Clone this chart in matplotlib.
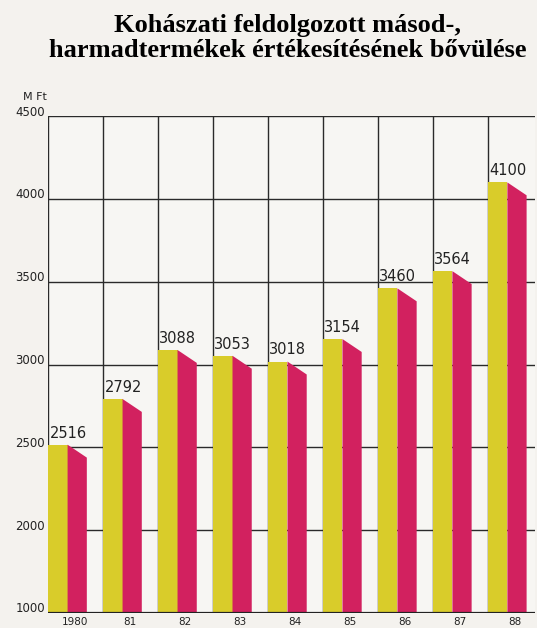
import numpy as np
import matplotlib.pyplot as plt
from matplotlib.transforms import ScaledTranslation

# adatok
years = ['1980', '81', '82', '83', '84', '85', '86', '87', '88']
values = [2516, 2792, 3088, 3053, 3018, 3154, 3460, 3564, 4100]
yticks = [1000, 2000, 2500, 3000, 3500, 4000, 4500]

yellow = '#d9cc2a'
magenta = '#d2215f'
paper = '#f4f2ee'


# 1000-2000 kozott osszenyomott tengely
def fwd(v):
    v = np.asarray(v, dtype=float)
    return np.where(v >= 2000, v - 1500, (v - 1000) / 2)


def inv(u):
    u = np.asarray(u, dtype=float)
    return np.where(u >= 500, u + 1500, 1000 + 2 * u)


fig = plt.figure(figsize=(5.37, 6.28), dpi=100, facecolor=paper)
ax = fig.add_axes([0.089, 0.024, 0.907, 0.791])
ax.set_facecolor('#f7f6f3')
ax.set_yscale('function', functions=(fwd, inv))

x = np.arange(len(years))
front_w = 0.36
side_w = 0.35
drop = 78  # ferde teto esese

# elolap
ax.bar(x, np.array(values) - 1000, bottom=1000, width=front_w, align='edge',
       color=yellow, zorder=3)

# oldallap + ertekek
for i, v in enumerate(values):
    xs = [x[i] + front_w, x[i] + front_w + side_w, x[i] + front_w + side_w, x[i] + front_w]
    ys = [v, v - drop, 1000, 1000]
    ax.fill(xs, ys, color=magenta, zorder=3, lw=0)
    ax.text(x[i] + 0.03, v + 25, str(v), fontsize=10.5, color='#222',
            ha='left', va='bottom', zorder=4)

ax.set_ylim(1000, 4500)
ax.set_xlim(0, 8.86)
ax.set_yticks(yticks)
ax.set_yticklabels([str(t) for t in yticks], fontsize=8.5, color='#222')
ax.set_xticks(x + 0.5)
ax.set_xticklabels(years, fontsize=7.5, color='#222')
ax.tick_params(length=0, pad=2)
ax.tick_params(axis='x', pad=3)
for lbl in ax.get_yticklabels():
    lbl.set_transform(lbl.get_transform() + ScaledTranslation(0, 4 / 72, fig.dpi_scale_trans))

# racs
for t in yticks:
    ax.axhline(t, color='#2a2a2a', lw=1.0, zorder=2)
for i in range(len(years)):
    ax.axvline(i, color='#2a2a2a', lw=1.0, zorder=2)
for s in ax.spines.values():
    s.set_visible(False)
ax.axhline(1000, color='#222', lw=1.6, zorder=5)

fig.text(0.042, 0.846, 'M Ft', fontsize=8, color='#222', ha='left', va='center')

fig.text(0.536, 0.96, 'Kohászati feldolgozott másod-,', fontsize=19, fontweight='bold',
         family='Liberation Serif', ha='center', va='center')
fig.text(0.536, 0.92, 'harmadtermékek értékesítésének bővülése', fontsize=19,
         fontweight='bold', family='Liberation Serif', ha='center', va='center')

fig.savefig('out.png', dpi=100, facecolor=paper)
